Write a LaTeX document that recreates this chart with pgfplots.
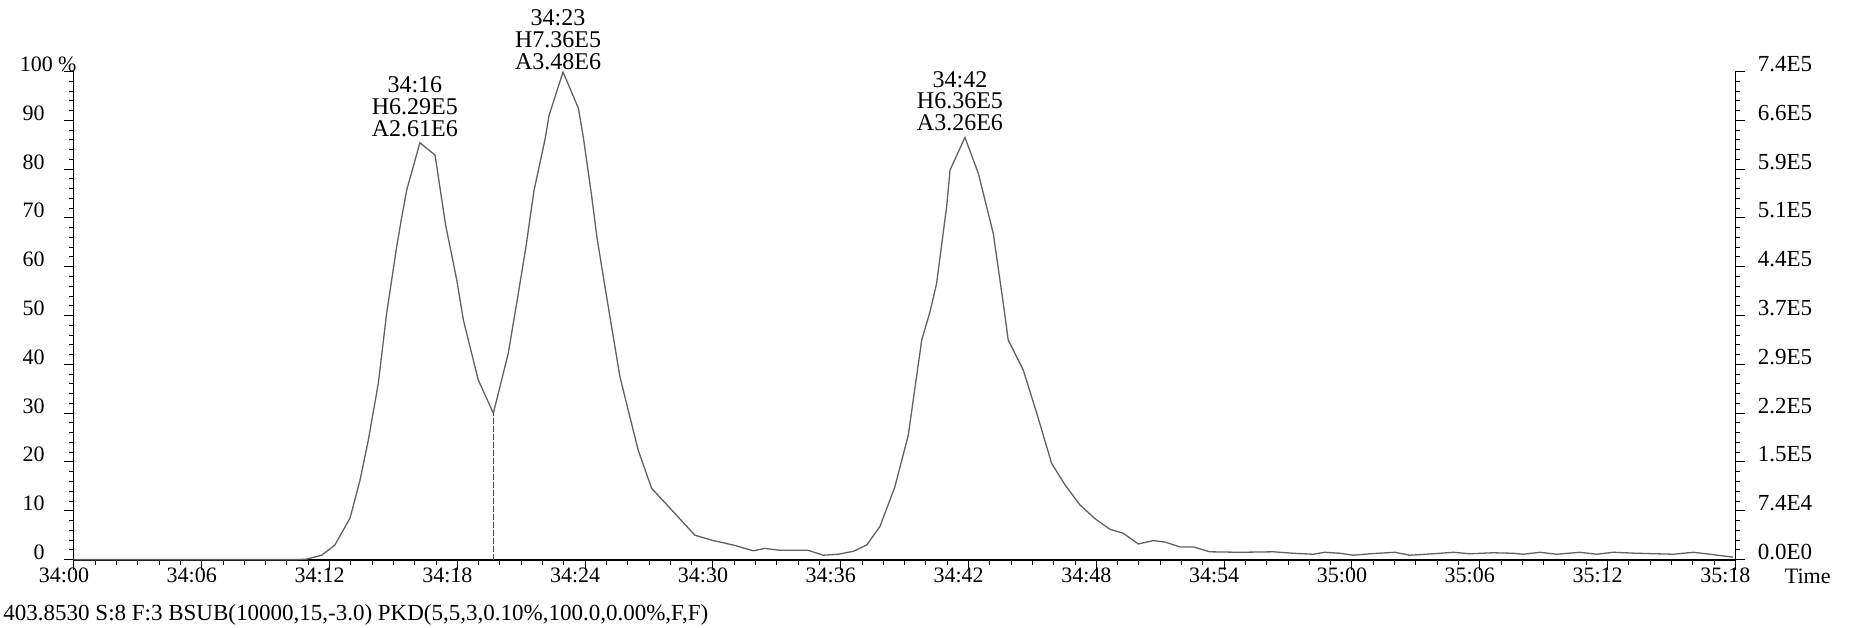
\documentclass[border=0pt]{standalone}
\usepackage{pgfplots}
\pgfplotsset{compat=1.18}
\usepackage{fontspec}
\setmainfont{Liberation Serif}

\begin{document}
\begin{tikzpicture}
\begin{axis}[
  name=main,
  scale only axis, width=830.5pt, height=244pt,
  xmin=0, xmax=78, ymin=0, ymax=100,
  clip=false,
  axis x line*=bottom, axis y line*=left,
  x axis line style={-, line width=1.1pt},
  y axis line style={-, line width=0.5pt},
  xtick={0,6,...,78},
  xticklabels={34:00,34:06,34:12,34:18,34:24,34:30,34:36,34:42,34:48,34:54,35:00,35:06,35:12,35:18},
  minor x tick num=5,
  ytick={0,10,...,100},
  yticklabels={0,10,20,30,40,50,60,70,80,90,{}},
  minor y tick num=4,
  tick align=outside,
  major tick length=5pt, minor tick length=2.5pt,
  tick style={black, line width=0.5pt},
  ticklabel style={font=\fontsize{11}{13}\selectfont, inner sep=0pt},
  x tick label style={anchor=base, xshift=-5pt, yshift=-6.5pt},
  y tick label style={anchor=base east, xshift=-9.5pt},
]
\addplot[black!62, line width=0.65pt] coordinates {
(0,0) (10.5,0) (10.92,0.1) (11.63,0.9) (12.25,3.0) (12.96,8.5) (13.43,16.3)
(13.82,24.5) (14.29,36.2) (14.68,50.5) (15.15,64.1) (15.38,70.0) (15.62,75.7)
(16.24,85.4) (16.95,82.9) (17.45,68.5) (17.97,57.3) (18.28,49.1) (18.98,36.8)
(19.69,30.0) (20.39,42.3) (20.81,53.2) (21.22,64.1) (21.60,75.7) (22.11,86.0)
(22.31,91.1) (22.96,99.9) (23.68,92.5) (23.91,86.6) (24.31,74.3) (24.55,66.1)
(24.85,58.0) (25.24,47.7) (25.63,37.5) (26.02,30.6) (26.49,22.4) (27.12,14.6)
(28.14,9.8) (29.15,5.0) (30.01,3.9) (30.33,3.6) (31.03,2.9) (31.89,1.8)
(32.44,2.3) (33.15,1.9) (34.47,1.9) (35.18,0.9) (35.88,1.1) (36.59,1.7)
(37.22,3.0) (37.84,6.8) (38.54,14.9) (39.17,25.5) (39.80,45.0) (40.19,50.8)
(40.50,56.6) (40.66,62.0) (40.97,72.3) (41.13,79.8) (41.83,86.5) (42.46,79.1)
(43.16,66.8) (43.63,52.5) (43.86,45.0) (44.57,38.8) (45.20,30.0) (45.90,19.7)
(46.53,15.3) (47.23,11.2) (47.93,8.4) (48.64,6.2) (49.26,5.4) (49.97,3.2)
(50.67,3.9) (51.22,3.6) (51.92,2.6) (52.55,2.6) (53.33,1.6) (54.74,1.5)
(56.31,1.6) (57.24,1.3) (58.18,1.1) (58.73,1.5) (59.44,1.3) (60.06,0.9)
(60.85,1.2) (62.02,1.5) (62.72,0.9) (63.51,1.1) (64.76,1.5) (65.54,1.2)
(66.63,1.4) (67.57,1.3) (68.04,1.1) (68.83,1.5) (69.61,1.1) (70.70,1.5)
(71.49,1.1) (72.27,1.5) (73.37,1.3) (75.09,1.1) (76.03,1.5) (76.81,1.1)
(77.9,0.5)
};
\addplot[black!70, line width=0.6pt, dash pattern=on 3pt off 1pt] coordinates {(19.69,0) (19.69,30.0)};
\path (axis cs:-3.474,-13.83) rectangle (axis cs:84.04,114.65);
\node[anchor=base east, inner sep=0pt, font=\fontsize{11}{13}\selectfont, xshift=1.5pt] at (axis cs:0,100) {100 \%};
\node[align=center, anchor=south, inner sep=0pt, font=\fontsize{12}{10.85}\selectfont, xshift=-2.5pt, yshift=1pt]
  at (axis cs:22.96,99.9) {34:23\\H7.36E5\\A3.48E6};
\node[align=center, anchor=south, inner sep=0pt, font=\fontsize{12}{10.85}\selectfont, xshift=-2.5pt, yshift=3pt]
  at (axis cs:16.24,85.4) {34:16\\H6.29E5\\A2.61E6};
\node[align=center, anchor=south, inner sep=0pt, font=\fontsize{12}{10.85}\selectfont, xshift=-2.5pt, yshift=3pt]
  at (axis cs:41.83,86.5) {34:42\\H6.36E5\\A3.26E6};
\node[anchor=base, inner sep=0pt, font=\fontsize{11}{13}\selectfont] at (axis cs:81.4,-4.8) {Time};
\node[anchor=base west, inner sep=0pt, font=\fontsize{11.5}{13}\selectfont] at (axis cs:-3.33,-12.4)
  {403.8530 S:8 F:3 BSUB(10000,15,-3.0) PKD(5,5,3,0.10\%,100.0,0.00\%,F,F)};
\end{axis}
\begin{axis}[
  scale only axis, width=830.5pt, height=244pt,
  xmin=0, xmax=78, ymin=0, ymax=100,
  axis x line=none, axis y line*=right,
  y axis line style={-, line width=0.5pt},
  ytick={0,10,...,100},
  yticklabels={0.0E0,7.4E4,1.5E5,2.2E5,2.9E5,3.7E5,4.4E5,5.1E5,5.9E5,6.6E5,7.4E5},
  minor y tick num=4,
  tick align=outside,
  major tick length=5pt, minor tick length=2.5pt,
  tick style={black, line width=0.5pt},
  ticklabel style={font=\fontsize{11.5}{13}\selectfont, inner sep=0pt},
  y tick label style={anchor=base west, xshift=6pt},
]
\end{axis}
\end{tikzpicture}
\end{document}
